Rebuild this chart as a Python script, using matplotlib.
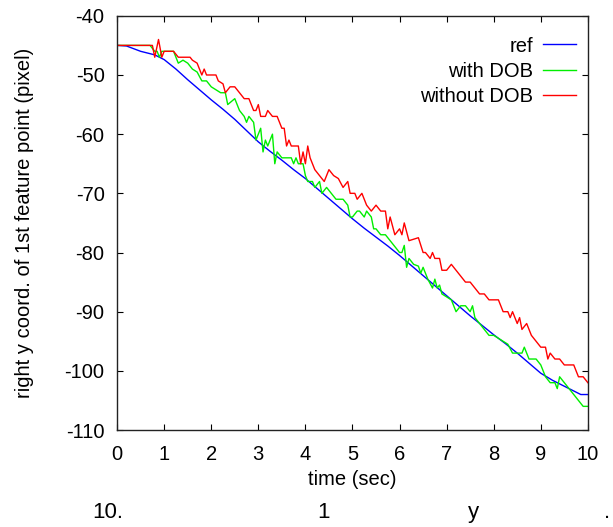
import matplotlib
matplotlib.use('Agg')
import matplotlib.pyplot as plt
import numpy as np

# reference trajectory (blue)
t_ref = [0.0, 0.2, 0.5, 0.8, 1.0, 1.25, 1.5, 1.75, 2.0, 2.25, 2.5, 2.75, 3.0, 3.25, 3.5,
         3.75, 4.0, 4.25, 4.5, 4.75, 5.0, 5.25, 5.5, 5.75, 6.0, 6.25, 6.5, 6.75, 7.0,
         7.25, 7.5, 7.75, 8.0, 8.25, 8.5, 8.75, 9.0, 9.25, 9.5, 9.75, 9.85, 10.0]
y_ref = [-45.0, -45.1, -46.0, -46.6, -47.4, -49.0, -50.8, -52.5, -54.2, -55.8, -57.5,
         -59.4, -61.3, -62.9, -64.4, -66.0, -67.5, -69.2, -70.9, -72.6, -74.3, -75.9,
         -77.4, -78.9, -80.5, -82.2, -83.9, -85.6, -87.3, -89.0, -90.7, -92.3, -93.9,
         -95.4, -97.0, -98.7, -100.4, -101.6, -102.6, -103.6, -104.0, -104.0]

# with DOB (green)
t_dob = [0.0, 0.7, 0.8, 0.85, 0.9, 0.95, 1.0, 1.2, 1.25, 1.3, 1.4, 1.5, 1.6, 1.7, 1.8,
         1.9, 2.0, 2.1, 2.2, 2.3, 2.35, 2.5, 2.6, 2.7, 2.75, 2.8, 2.9, 2.95, 3.0, 3.05,
         3.1, 3.15, 3.2, 3.3, 3.35, 3.4, 3.5, 3.7, 3.75, 3.8, 3.85, 3.95, 4.0, 4.05,
         4.15, 4.2, 4.3, 4.35, 4.45, 4.55, 4.65, 4.8, 4.9, 4.95, 5.0, 5.1, 5.15, 5.25,
         5.3, 5.4, 5.45, 5.5, 5.6, 5.7, 5.8, 5.9, 6.0, 6.05, 6.1, 6.15, 6.2, 6.3, 6.4,
         6.45, 6.5, 6.6, 6.7, 6.75, 6.8, 6.85, 6.9, 7.0, 7.1, 7.2, 7.3, 7.4, 7.5, 7.55,
         7.6, 7.7, 7.8, 7.9, 8.0, 8.2, 8.3, 8.4, 8.6, 8.65, 8.75, 8.9, 9.0, 9.1, 9.2,
         9.3, 9.35, 9.4, 9.5, 9.6, 9.7, 9.8, 9.9, 10.0]
y_dob = [-45, -45, -46, -46, -47, -46, -46, -46, -47, -48, -47.5, -48, -49, -49.5, -51,
         -51, -52, -52.5, -53, -53, -55, -54, -56, -57, -58, -57, -58, -61, -60, -59,
         -63, -61, -62, -60, -65, -63, -64, -64, -65, -64, -65, -65, -67, -68,
         -68, -69, -68, -70, -69, -70, -71, -71, -72, -74, -74, -73, -73, -74,
         -73, -74, -76, -76, -77, -77, -78, -79, -80, -80, -78.8, -82.5, -81, -82, -82.3,
         -83.5, -82.5, -84.5, -86, -84.5, -86, -85.5, -87, -87.5, -88, -90, -89, -89, -90, -89,
         -91, -92, -93, -94, -94, -95, -95.5, -97, -97, -96, -98, -98, -99, -101, -102,
         -102, -103, -101, -102, -103, -104, -105, -106, -106]

# without DOB (red)
t_nodob = [0.0, 0.75, 0.8, 0.88, 0.95, 1.0, 1.2, 1.3, 1.55, 1.6, 1.7, 1.8, 1.85, 1.9,
           2.1, 2.15, 2.25, 2.3, 2.4, 2.5, 2.6, 2.7, 2.8, 2.9, 2.95, 3.0, 3.05, 3.15,
           3.2, 3.3, 3.4, 3.5, 3.55, 3.6, 3.65, 3.7, 3.85, 3.9, 3.95, 4.0, 4.05, 4.1,
           4.2, 4.3, 4.4, 4.5, 4.6, 4.7, 4.8, 4.9, 4.95, 5.05, 5.1, 5.2, 5.3, 5.4, 5.5,
           5.6, 5.7, 5.75, 5.8, 5.9, 6.0, 6.05, 6.1, 6.2, 6.4, 6.5, 6.55, 6.65, 6.7,
           6.75, 6.85, 6.9, 7.0, 7.1, 7.2, 7.3, 7.4, 7.5, 7.6, 7.7, 7.8, 7.9, 8.1, 8.2,
           8.3, 8.35, 8.4, 8.5, 8.55, 8.6, 8.7, 8.75, 8.8, 8.9, 9.0, 9.1, 9.15, 9.2, 9.3,
           9.4, 9.5, 9.7, 9.8, 9.9, 10.0]
y_nodob = [-45, -45, -47, -44, -47, -46, -46, -47, -47, -47.5, -48, -50, -49, -50,
           -50, -51, -51.5, -53, -52, -52, -53, -54, -54, -56, -56, -55, -57, -57,
           -56, -57, -57, -59, -59, -62, -61, -62, -62, -65, -63, -65, -62, -64,
           -66, -67, -68, -66, -67, -67.5, -69, -68, -70, -70, -71, -70, -72, -73, -72,
           -73, -73, -76, -74, -77, -76, -77, -75, -78, -77.5, -80, -80, -81, -80,
           -81, -81, -83, -83, -82, -83, -84, -85, -85, -86, -87, -87, -88, -88, -90,
           -90, -91, -90, -92, -91, -93, -92, -93, -94, -95, -96, -96, -98, -97, -98,
           -98, -99, -99, -101, -101, -102]

xticks = np.arange(0, 11, 1)
yticks = np.arange(-110, -39, 10)

plt.rcParams['font.family'] = ['Liberation Sans', 'DejaVu Sans']
plt.rcParams['axes.unicode_minus'] = False

fig = plt.figure(figsize=(6.13, 5.27), dpi=100)
ax = fig.add_axes([0.191, 0.184, 0.768, 0.786])

ax.plot(t_ref, y_ref, color='#0000ff', lw=1.0, label='ref')
ax.plot(t_dob, y_dob, color='#00ee00', lw=1.0, label='with DOB')
ax.plot(t_nodob, y_nodob, color='#ff0000', lw=1.0, label='without DOB')

ax.set_xlim(0, 10)
ax.set_ylim(-110, -40)
ax.set_xticks(xticks)
ax.set_yticks(yticks)
ax.tick_params(direction='in', top=True, right=True, length=4, width=0.8,
               labelsize=14.5, colors='black')
ax.tick_params(axis='x', pad=11)
ax.tick_params(axis='y', pad=9)
for s in ax.spines.values():
    s.set_linewidth(1.0)
    s.set_color('#222222')

ax.set_xlabel('time (sec)', fontsize=14.5, labelpad=4)
ax.set_ylabel('right y coord. of 1st feature point (pixel)', fontsize=14.5, labelpad=22)

ax.legend(loc='upper right', bbox_to_anchor=(0.974, 0.95), frameon=False,
          markerfirst=False, fontsize=14.5, handlelength=1.6, handletextpad=0.5,
          labelspacing=0.3, borderpad=0, borderaxespad=0)

fig.text(0.176, 0.027, '10.', fontsize=16, ha='center', va='center')
fig.text(0.527, 0.027, '1', fontsize=16, ha='center', va='center')
fig.text(0.772, 0.027, 'y', fontsize=16, ha='center', va='center')
fig.text(0.99, 0.027, '.', fontsize=16, ha='center', va='center')

fig.savefig('out.png', dpi=100)
